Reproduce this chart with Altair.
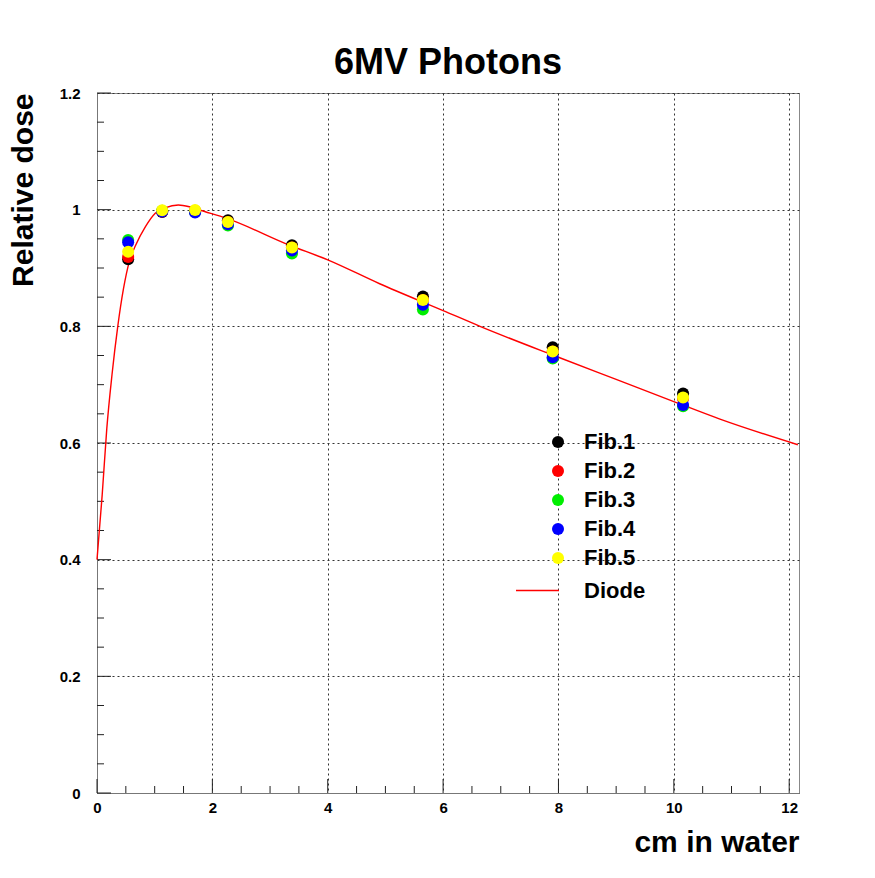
import altair as alt
import pandas as pd

# ---------------- data ----------------
depth_fib = [0.54, 1.13, 1.70, 2.27, 3.38, 5.65, 7.90, 10.16]
fib1 = [0.915, 0.996, 0.997, 0.982, 0.939, 0.851, 0.764, 0.685]
fib2 = [0.919, 0.997, 0.998, 0.979, 0.935, 0.845, 0.757, 0.676]
fib3 = [0.948, 0.998, 0.996, 0.973, 0.925, 0.829, 0.745, 0.663]
fib4 = [0.944, 0.997, 0.995, 0.975, 0.930, 0.837, 0.747, 0.665]
fib5 = [0.928, 0.999, 0.9995, 0.979, 0.935, 0.845, 0.757, 0.678]

series_names = ["Fib.1", "Fib.2", "Fib.3", "Fib.4", "Fib.5"]
series_colors = ["#000000", "#ff0000", "#00ee00", "#0000ff", "#ffff00"]

diode_x = [0.0, 0.09, 0.17, 0.26, 0.36, 0.46, 0.56, 0.67, 0.84, 1.01, 1.18,
           1.41, 1.60, 1.79, 2.25, 3.34, 4.0, 4.9, 6.0, 6.64, 8.0, 9.0,
           10.0, 10.8, 12.15]
diode_y = [0.40, 0.511, 0.625, 0.717, 0.80, 0.865, 0.911, 0.939, 0.971,
           0.994, 1.003, 1.008, 1.005, 0.999, 0.985, 0.939, 0.914, 0.873,
           0.827, 0.80, 0.747, 0.709, 0.671, 0.641, 0.597]

x_major = [0, 2, 4, 6, 8, 10, 12]
x_minor = [0.5, 1, 1.5, 2.5, 3, 3.5, 4.5, 5, 5.5, 6.5, 7, 7.5, 8.5, 9, 9.5,
           10.5, 11, 11.5]
y_major = [0, 0.2, 0.4, 0.6, 0.8, 1.0, 1.2]
y_minor = [0.05, 0.1, 0.15, 0.25, 0.3, 0.35, 0.45, 0.5, 0.55, 0.65, 0.7,
           0.75, 0.85, 0.9, 0.95, 1.05, 1.1, 1.15]

# ---------------- tables ----------------
rows = []
for k, (name, vals) in enumerate(zip(series_names, [fib1, fib2, fib3, fib4, fib5])):
    for xv, yv in zip(depth_fib, vals):
        rows.append({"x": xv, "y": yv, "series": name, "k": k})
pts = pd.DataFrame(rows)
diode = pd.DataFrame({"x": diode_x, "y": diode_y, "name": ["Diode"] * len(diode_x)})
xmaj = pd.DataFrame({"v": x_major})
xmin = pd.DataFrame({"v": x_minor})
ymaj = pd.DataFrame({"v": y_major})
ymin = pd.DataFrame({"v": y_minor})

FONT = "Liberation Sans"
W, H = 702, 700

xs = alt.Scale(domain=[0, 12.17], nice=False, zero=False)
ys = alt.Scale(domain=[0, 1.2], nice=False, zero=False)

xaxis = alt.Axis(values=x_major, format="~g", title="cm in water",
                 titleFontSize=30, titleFont=FONT, titleFontWeight="bold",
                 titleColor="black", titleAlign="right", titleBaseline="alphabetic",
                 titleX=W, titleY=58, ticks=False, labelPadding=7,
                 labelFontSize=15, labelFont=FONT, labelFontWeight="bold",
                 labelColor="black", labelFlush=False, grid=True,
                 gridDash=[2, 3], gridColor="#333333", gridWidth=1,
                 domainColor="#777777")
yaxis = alt.Axis(values=y_major, format="~g", title="Relative dose",
                 titleFontSize=30, titleFont=FONT, titleFontWeight="bold",
                 titleColor="black", titleAngle=270, titleAlign="right",
                 titleBaseline="alphabetic", titleX=-65, titleY=0,
                 ticks=False, labelPadding=17, labelFontSize=15, labelFont=FONT,
                 labelFontWeight="bold", labelColor="black", labelFlush=False,
                 grid=True, gridDash=[2, 3], gridColor="#333333", gridWidth=1,
                 domainColor="#777777")

line = alt.Chart(diode).mark_line(strokeWidth=1.4, interpolate="monotone").encode(
    x=alt.X("x:Q", scale=xs, axis=xaxis),
    y=alt.Y("y:Q", scale=ys, axis=yaxis),
    color=alt.Color("name:N", scale=alt.Scale(domain=["Diode"], range=["#ff0000"]),
                    legend=alt.Legend(title=None, orient="none", legendX=418, legendY=475,
                                      symbolType="stroke", symbolSize=1849,
                                      symbolStrokeWidth=1.4, labelOffset=24,
                                      labelFontSize=22, labelFont=FONT,
                                      labelFontWeight="bold", labelColor="black",
                                      padding=0)),
)

points = alt.Chart(pts).mark_circle(size=145, opacity=1).encode(
    x=alt.X("x:Q", scale=xs, axis=xaxis),
    y=alt.Y("y:Q", scale=ys, axis=yaxis),
    color=alt.Color("series:N", scale=alt.Scale(domain=series_names, range=series_colors),
                    legend=alt.Legend(title=None, orient="none", legendX=450, legendY=338,
                                      symbolType="circle", symbolSize=145,
                                      symbolStrokeWidth=0, rowPadding=7,
                                      labelOffset=15, labelFontSize=22,
                                      labelFont=FONT, labelFontWeight="bold",
                                      labelColor="black", padding=0)),
    order=alt.Order("k:Q"),
)

tick_col = "#222222"
xt_major = alt.Chart(xmaj).mark_rule(color=tick_col, strokeWidth=1).encode(
    x=alt.X("v:Q", scale=xs, axis=xaxis), y=alt.value(H), y2=alt.value(H - 14))
xt_minor = alt.Chart(xmin).mark_rule(color=tick_col, strokeWidth=1).encode(
    x=alt.X("v:Q", scale=xs, axis=xaxis), y=alt.value(H), y2=alt.value(H - 7))
yt_major = alt.Chart(ymaj).mark_rule(color=tick_col, strokeWidth=1).encode(
    y=alt.Y("v:Q", scale=ys, axis=yaxis), x=alt.value(0), x2=alt.value(14))
yt_minor = alt.Chart(ymin).mark_rule(color=tick_col, strokeWidth=1).encode(
    y=alt.Y("v:Q", scale=ys, axis=yaxis), x=alt.value(0), x2=alt.value(7))

chart = alt.layer(xt_major, xt_minor, yt_major, yt_minor, line, points).resolve_scale(
    color="independent"
).properties(
    width=W, height=H,
    title=alt.Title("6MV Photons", fontSize=36, font=FONT, fontWeight="bold",
                    color="black", anchor="middle", frame="group",
                    baseline="alphabetic", offset=21, dy=45),
    padding={"left": 89, "top": 85, "right": 60, "bottom": 80},
    autosize=alt.AutoSizeParams(type="none"),
).configure_view(stroke="#888888", strokeWidth=1)

chart.save("out.html", embed_options={"renderer": "svg", "actions": False})
